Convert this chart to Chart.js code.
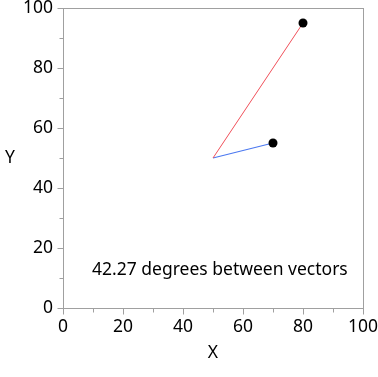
<!DOCTYPE html>
<html>
<head>
<meta charset="utf-8">
<script src="https://cdn.jsdelivr.net/npm/chart.js@4"></script>
<style>
  html, body { margin: 0; padding: 0; background: #fff; }
  #wrap { width: 378px; height: 377px; }
</style>
</head>
<body>
<div id="wrap"><canvas id="chart"></canvas></div>
<script>
// vectors start at a common origin
var origin = { x: 50, y: 50 };
var redEnd = { x: 80, y: 95 };
var blueEnd = { x: 70, y: 55 };
var axisMin = 0, axisMax = 100;
var majorStep = 20, minorStep = 10;
var noteText = '42.27 degrees between vectors';
var noteAt = { x: 52.3, y: 12.7 };

var FONT = '"Noto Sans", "Open Sans", sans-serif';
var FSIZE = 17.5;

var framePlugin = {
  id: 'frame',
  afterDraw: function(chart) {
    var ctx = chart.ctx, a = chart.chartArea;
    var xs = chart.scales.x, ys = chart.scales.y;
    ctx.save();
    ctx.strokeStyle = '#a0a0a0';
    ctx.lineWidth = 1;
    ctx.strokeRect(Math.round(a.left) + 0.5, Math.round(a.top) + 0.5,
      Math.round(a.right - a.left), Math.round(a.bottom - a.top));
    // ticks
    ctx.beginPath();
    for (var v = axisMin; v <= axisMax; v += minorStep) {
      var len = (v % majorStep === 0) ? 6 : 4;
      var px = Math.round(xs.getPixelForValue(v)) + 0.5;
      ctx.moveTo(px, Math.round(a.bottom) + 0.5);
      ctx.lineTo(px, Math.round(a.bottom) + 0.5 + len);
      var py = Math.round(ys.getPixelForValue(v)) + 0.5;
      ctx.moveTo(Math.round(a.left) + 0.5, py);
      ctx.lineTo(Math.round(a.left) + 0.5 - len, py);
    }
    ctx.stroke();
    // axis titles
    ctx.fillStyle = '#000';
    ctx.font = FSIZE + 'px ' + FONT;
    ctx.textAlign = 'center';
    ctx.textBaseline = 'middle';
    ctx.fillText('X', (a.left + a.right) / 2, 353);
    ctx.fillText('Y', 10, (a.top + a.bottom) / 2);
    // annotation
    ctx.fillText(noteText, xs.getPixelForValue(noteAt.x), ys.getPixelForValue(noteAt.y));
    ctx.restore();
  }
};

new Chart(document.getElementById('chart'), {
  type: 'scatter',
  data: {
    datasets: [
      {
        data: [origin, redEnd],
        showLine: true,
        borderColor: '#f0505a',
        borderWidth: 1,
        pointRadius: [0, 4.5],
        pointBackgroundColor: '#000',
        pointBorderColor: '#000',
        pointBorderWidth: 0
      },
      {
        data: [origin, blueEnd],
        showLine: true,
        borderColor: '#4a78f0',
        borderWidth: 1.2,
        pointRadius: [0, 4.5],
        pointBackgroundColor: '#000',
        pointBorderColor: '#000',
        pointBorderWidth: 0
      }
    ]
  },
  options: {
    animation: false,
    responsive: true,
    maintainAspectRatio: false,
    layout: { padding: { left: 0, top: 8, right: 15, bottom: 0 } },
    plugins: {
      legend: { display: false },
      tooltip: { enabled: false }
    },
    scales: {
      x: {
        type: 'linear',
        min: axisMin,
        max: axisMax,
        grid: { display: false, drawTicks: false },
        border: { display: false },
        ticks: {
          stepSize: majorStep,
          padding: 9,
          color: '#000',
          maxRotation: 0,
          font: { family: FONT, size: FSIZE }
        },
        afterFit: function(s) {
          s.height = 69;
          s.paddingLeft = 0;
          s.paddingRight = 0;
        }
      },
      y: {
        type: 'linear',
        min: axisMin,
        max: axisMax,
        grid: { display: false, drawTicks: false },
        border: { display: false },
        ticks: {
          stepSize: majorStep,
          padding: 10,
          color: '#000',
          font: { family: FONT, size: FSIZE }
        },
        afterFit: function(s) {
          s.width = 63;
          s.paddingTop = 0;
          s.paddingBottom = 0;
        }
      }
    }
  },
  plugins: [framePlugin]
});
</script>
</body>
</html>
